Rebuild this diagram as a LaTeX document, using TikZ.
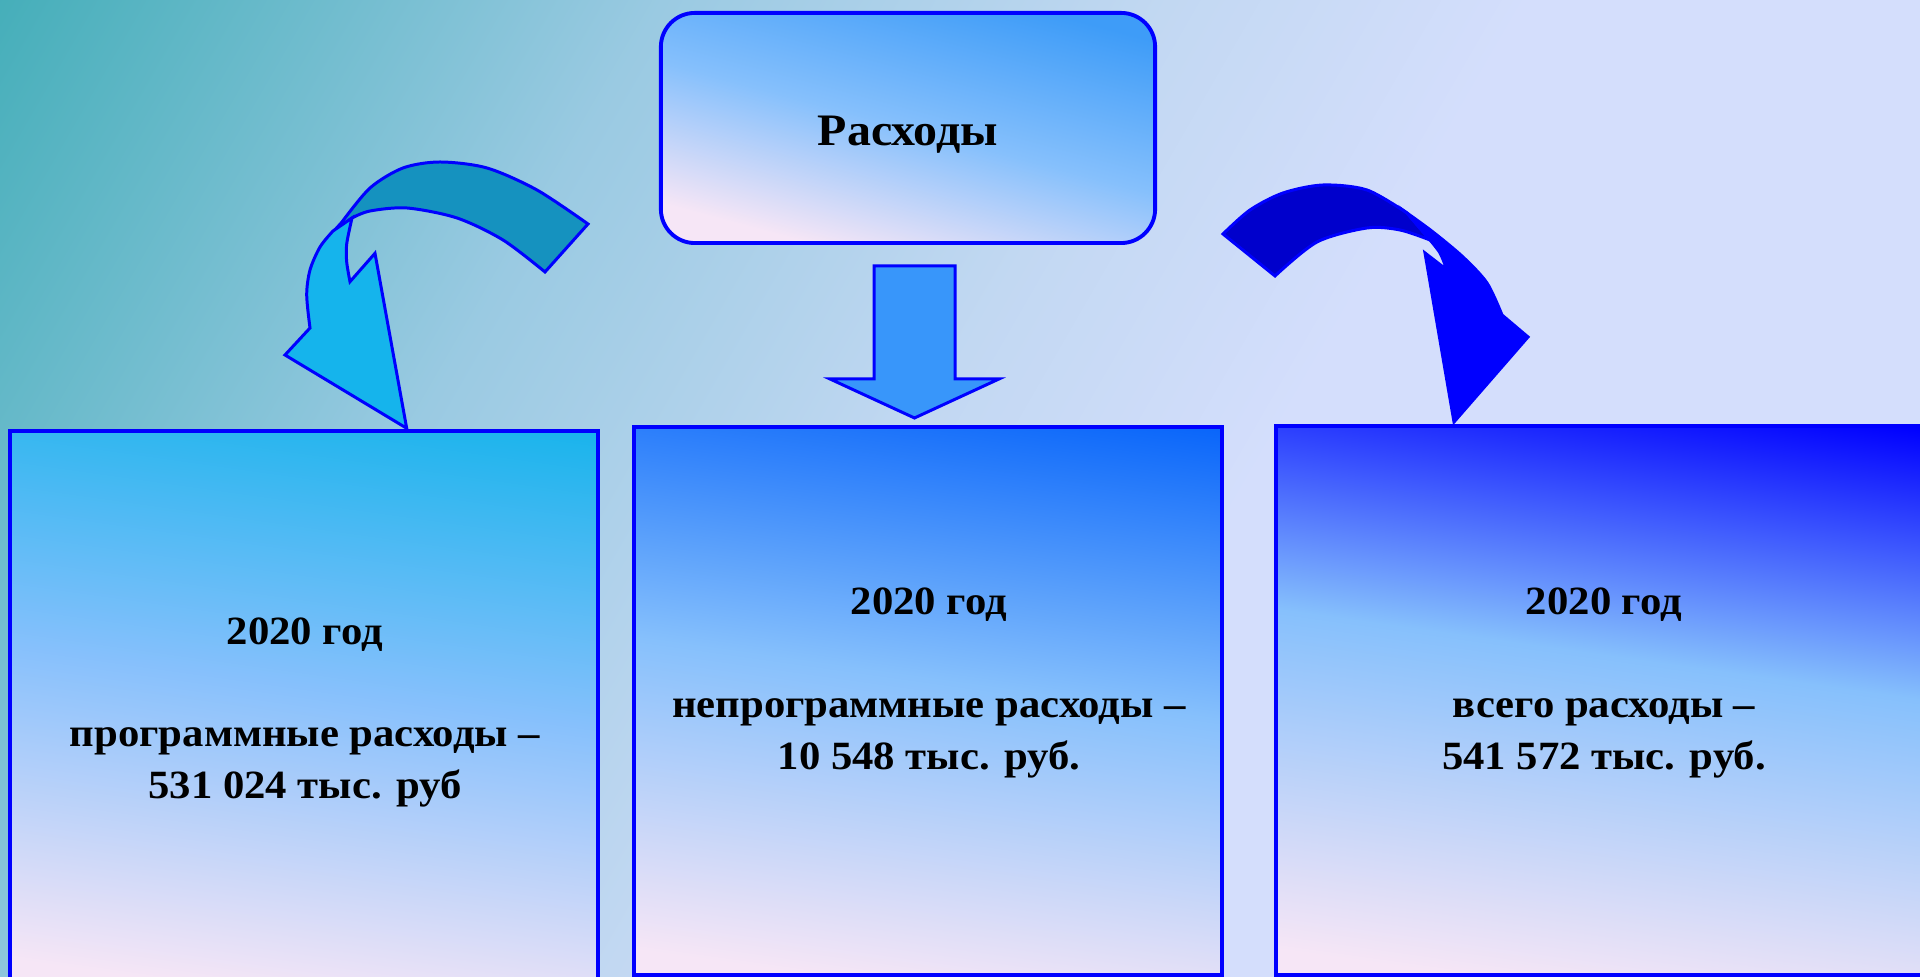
\documentclass[tikz,border=0pt]{standalone}
\usepackage{fontspec}
\setmainfont{Liberation Serif}[FakeStretch=1.065]
\usetikzlibrary{positioning, calc}

\definecolor{bgteal}{HTML}{3EACB6}
\definecolor{bgmid}{HTML}{9ACAE2}
\definecolor{bglight}{HTML}{C2D8F2}
\definecolor{bglav}{HTML}{D4DEFC}
\definecolor{boxpink}{HTML}{F6E6F6}
\definecolor{boxmid}{HTML}{86C0FC}
\definecolor{headblue}{HTML}{3E9CF8}
\definecolor{progcyan}{HTML}{1AB4EC}
\definecolor{nonprogblue}{HTML}{0A66FA}
\definecolor{totalblue}{HTML}{0000FF}
\definecolor{downblue}{HTML}{3896FA}
\definecolor{backteal}{HTML}{1592BF}
\definecolor{frontcyan}{HTML}{15B4EC}
\definecolor{backblue}{HTML}{0000CC}
\definecolor{rim}{HTML}{0000FF}

\pgfdeclarehorizontalshading{bgfill}{100bp}{color(0bp)=(bgteal); color(14bp)=(bgteal); color(34bp)=(bgmid); color(48bp)=(bglight); color(58bp)=(bglav); color(100bp)=(bglav)}
\pgfdeclareverticalshading{headfill}{100bp}{color(0bp)=(boxpink); color(26bp)=(boxpink); color(50bp)=(boxmid); color(76bp)=(headblue); color(100bp)=(headblue)}
\pgfdeclareverticalshading{progfill}{100bp}{color(0bp)=(boxpink); color(24bp)=(boxpink); color(52bp)=(boxmid); color(78bp)=(progcyan); color(100bp)=(progcyan)}
\pgfdeclareverticalshading{nonprogfill}{100bp}{color(0bp)=(boxpink); color(24bp)=(boxpink); color(52bp)=(boxmid); color(78bp)=(nonprogblue); color(100bp)=(nonprogblue)}
\pgfdeclareverticalshading{totalfill}{100bp}{color(0bp)=(boxpink); color(24bp)=(boxpink); color(54bp)=(boxmid); color(78bp)=(totalblue); color(100bp)=(totalblue)}

\tikzset{
  panel/.style={draw=rim, line width=1.1pt, shade, shading angle=-8, inner sep=0pt},
  figures/.style={font=\fontsize{11.4}{14.8}\selectfont\bfseries, align=center, inner sep=0pt},
  heading/.style={font=\fontsize{12.8}{15}\selectfont\bfseries, inner sep=0pt},
  blockarrow/.style={draw=rim, line width=0.85pt, line join=miter}
}

\begin{document}
\begin{tikzpicture}[x=0.01cm, y=-0.01cm]
  \useasboundingbox (0,0) rectangle (1920,977);
  \clip (0,0) rectangle (1920,977);
  \shade[shading=bgfill, shading angle=-30] (0,0) rectangle (1920,977);

  % boxes
  \node[panel, shading=headfill, shading angle=-15, rounded corners=0.34cm,
        minimum width=4.94cm, minimum height=2.3cm] (exp) at (908,128) {};
  \node[heading, anchor=base] (exptxt) at (908,145.7) {Расходы};

  \node[panel, shading=progfill, minimum width=5.88cm, minimum height=5.54cm] (prog) at (304,708) {};
  \node[panel, shading=nonprogfill, minimum width=5.88cm, minimum height=5.48cm] (nonprog) at (928,701) {};
  \node[panel, shading=totalfill, minimum width=6.56cm, minimum height=5.49cm] (total) at (1604,700.5) {};

  \node[figures] (progtxt) at (305,712.5) {2020 год\\[0.5cm] программные расходы –\\531 024 тыс. руб};
  \node[figures] (nonprogtxt) at (929,683) {2020 год\\[0.5cm] непрограммные расходы –\\10 548 тыс. руб.};
  \node[figures] (totaltxt) at (1604,683) {2020 год\\[0.5cm] всего расходы –\\541 572 тыс. руб.};

  % straight arrow down
  \draw[blockarrow, fill=downblue] (874,266) -- (955,266) -- (955,379) -- (999,379)
    -- (914.5,418) -- (830,379) -- (874,379) -- cycle;

  % curved arrow to the left
  \draw[blockarrow, fill=backteal]
    plot[smooth] coordinates {(588,224) (537,190) (487,168) (440,162) (403,168) (370,188) (342,222)}
    -- (333,232) -- (352,218)
    -- plot[smooth] coordinates {(352,218) (370,211) (407,208) (457,218) (503,240) (545,272)} -- cycle;
  \draw[blockarrow, fill=frontcyan] (352,218) -- (333,231)
    -- plot[smooth] coordinates {(333,231) (320,247) (310,270) (306.7,295) (310,328)}
    -- (285,355) -- (406.7,428.3) -- (375,253.3) -- (350,281.7)
    -- plot[smooth] coordinates {(350,281.7) (346.7,262) (346.7,244) (352,218)} -- cycle;

  % curved arrow to the right
  \draw[blockarrow, fill=backblue]
    plot[smooth] coordinates {(1223,234) (1250,210) (1283,193) (1323,185) (1367,190) (1407,213)}
    -- (1430,240)
    -- plot[smooth] coordinates {(1430,240) (1400,230) (1367,228) (1317,242) (1275,276)} -- cycle;
  \draw[blockarrow, fill=totalblue]
    plot[smooth] coordinates {(1407,213) (1433,232) (1463,257) (1487,283) (1502,315)}
    -- (1528,337) -- (1454,422) -- (1425,253) -- (1447,270)
    -- plot[smooth] coordinates {(1447,270) (1440,253) (1430,240)} -- cycle;
\end{tikzpicture}
\end{document}
